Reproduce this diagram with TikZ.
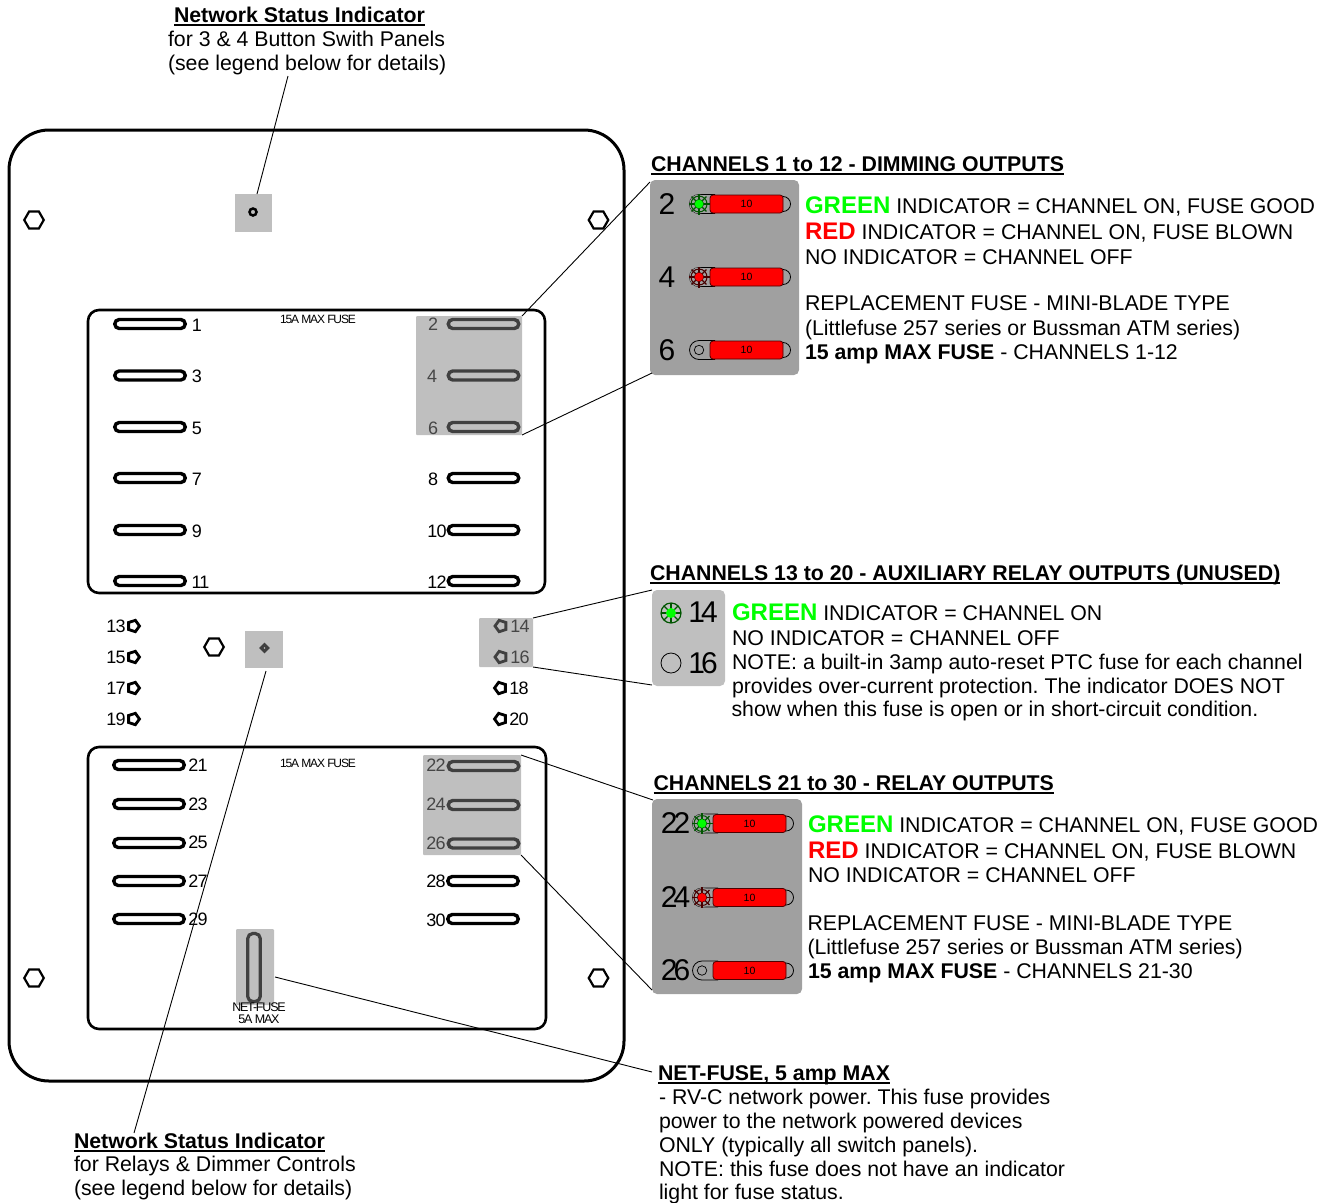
\documentclass[tikz,border=0pt]{standalone}
\usepackage{fontspec}
\setmainfont{Liberation Sans}
\newfontfamily\tightf[LetterSpace=-9.5]{Liberation Sans}
\newfontfamily\semitight[LetterSpace=-4]{Liberation Sans}
\newfontfamily\bigtight[LetterSpace=-13]{Liberation Sans}
\usetikzlibrary{shapes.geometric}
\definecolor{shadegray}{RGB}{191,191,191}
\definecolor{paneldark}{RGB}{160,160,160}
\definecolor{fusedark}{RGB}{64,64,64}
\definecolor{labeldark}{RGB}{70,70,70}
\definecolor{ledgreen}{RGB}{0,255,0}
\definecolor{ledred}{RGB}{255,0,0}
\definecolor{darkgreenline}{RGB}{0,85,0}
\definecolor{darkredline}{RGB}{70,0,0}
\newcommand{\hdrline}[1]{\leavevmode\vtop{\hbox{\smash{#1}}\kern2pt\hrule height 1.5pt}}
\tikzset{
  x=1pt,y=-1pt,
  txt/.style={anchor=base west,inner sep=0pt,outer sep=0pt,font=\fontsize{21.3}{24}\selectfont},
  leader/.style={draw=black,line width=0.9pt},
  plate/.style={draw=black,line width=3pt,rounded corners=40pt},
  panel/.style={draw=black,line width=2.6pt,rounded corners=11pt},
  shadebox/.style={fill=shadegray,rounded corners=1pt},
  slot/.style={draw=#1,line width=3.4pt,rectangle,rounded corners=4.5pt,minimum width=70.5pt,minimum height=9pt,inner sep=0pt},
  slot/.default=black,
  num/.style={inner sep=0pt,font=\semitight\fontsize{18}{18}\selectfont},
  bignum/.style={inner sep=0pt,font=\fontsize{30}{30}\selectfont},
  bigtightnum/.style={inner sep=0pt,font=\bigtight\fontsize{30}{30}\selectfont},
  bolt/.style={draw=black,line width=2.2pt,regular polygon,regular polygon sides=6,minimum size=19.5pt,inner sep=0pt},
  nutL/.style={draw=#1,line width=2.8pt,regular polygon,regular polygon sides=5,shape border rotate=-90,minimum size=12pt,inner sep=0pt},
  nutL/.default=black,
  nutR/.style={draw=#1,line width=2.8pt,regular polygon,regular polygon sides=5,shape border rotate=90,minimum size=12pt,inner sep=0pt},
  nutR/.default=black,
  fuse/.style={draw=black!70!red,line width=0.8pt,fill=ledred,rounded corners=3pt,minimum width=73pt,minimum height=18pt,inner sep=0pt,font=\fontsize{10.5}{10}\selectfont,text=black},
}
% capsule, end cap and red blade of one fuse: name, x offset, y
\newcommand{\bladebody}[3]{%
  \draw[black,line width=0.8pt] (#2+715,#3-9.5) -- (#2+699,#3-9.5) arc[start angle=270,end angle=90,radius=9.5] -- (#2+715,#3+9.5);
  \draw[black,line width=0.8pt] (#2+783,#3-7.5) arc[start angle=-90,end angle=90,radius=7.5];
  \node[fuse] (#1) at (#2+746.5,#3) {10};
}
\newcommand{\sunled}[5]{% name,x,y,fill,dark
  \fill[paneldark] (#2,#3) circle[radius=9.5];
  \foreach \a in {0,45,...,315}{\draw[#5,line width=1.2pt] (#2,#3) -- ++(\a:10.5pt);}
  \draw[#5,line width=1pt] (#2,#3) circle[radius=8];
  \node[circle,fill=#4,draw=#5,line width=.5pt,minimum size=9.5pt,inner sep=0pt] (#1) at (#2,#3) {};
}
\begin{document}
\frenchspacing
\begin{tikzpicture}
\useasboundingbox (0,0) rectangle (1321,1202);
% plate
\draw[plate] (9,130) rectangle (624,1081);
\draw[panel] (88,310) rectangle (545,593);
\draw[panel] (88,747) rectangle (546,1029);
% shaded source regions
\fill[shadebox] (416,316) rectangle (522,435);
\fill[shadebox] (479,618) rectangle (533,667);
\fill[shadebox] (423,755) rectangle (521,855);
\fill[shadebox] (236,929) rectangle (274,1005);
\node[fill=shadegray,minimum width=37pt,minimum height=38pt,inner sep=0pt] (statusA) at (253.5,213) {};
\node[fill=shadegray,minimum width=38pt,minimum height=37pt,inner sep=0pt] (statusB) at (264,649.5) {};
\node[circle,draw=black,line width=2.5pt,minimum size=7pt,inner sep=0pt] (ledA) at (253,212) {};
\node[diamond,fill=fusedark,minimum size=11pt,inner sep=0pt] (ledB) at (264.5,648) {};
\node[circle,fill=shadegray,minimum size=1.6pt,inner sep=0pt] (ledBc) at (264.5,648) {};
% bolts
\node[bolt] (b1) at (34,220) {};
\node[bolt] (b2) at (598.5,220) {};
\node[bolt] (b3) at (34,978) {};
\node[bolt] (b4) at (598.5,978) {};
\node[bolt] (b5) at (214,647) {};
% upper fuses
\node[slot] (f1) at (150,324) {};
\node[slot] (f3) at (150,375.5) {};
\node[slot] (f5) at (150,427) {};
\node[slot] (f7) at (150,478) {};
\node[slot] (f9) at (150,530) {};
\node[slot] (f11) at (150,581) {};
\node[slot=fusedark] (f2) at (483.5,324) {};
\node[slot=fusedark] (f4) at (483.5,375.5) {};
\node[slot=fusedark] (f6) at (483.5,427) {};
\node[slot] (f8) at (483.5,478) {};
\node[slot] (f10) at (483.5,530) {};
\node[slot] (f12) at (483.5,581) {};
\node[num] (l1) at (197,325) {1};
\node[num] (l3) at (197,376) {3};
\node[num] (l5) at (197,428) {5};
\node[num] (l7) at (197,479) {7};
\node[num] (l9) at (197,531) {9};
\node[num] (l11) at (200.5,582) {11};
\node[num,text=labeldark] (l2) at (433,324) {2};
\node[num,text=labeldark] (l4) at (432,376) {4};
\node[num,text=labeldark] (l6) at (433,428) {6};
\node[num] (l8) at (433,479) {8};
\node[num] (l10) at (437,531) {10};
\node[num] (l12) at (437,582) {12};
\node[inner sep=0pt,font=\tightf\fontsize{12}{12}\selectfont] (m1) at (318,319) {15A MAX FUSE};
\node[inner sep=0pt,font=\tightf\fontsize{12}{12}\selectfont] (m2) at (318,763) {15A MAX FUSE};
% middle terminals
\node[nutL] (n13) at (133.5,626) {};
\node[nutL] (n15) at (133.5,657) {};
\node[nutL] (n17) at (133.5,688) {};
\node[nutL] (n19) at (133.5,719) {};
\node[num] (l13) at (116,626) {13};
\node[num] (l15) at (116,657) {15};
\node[num] (l17) at (116,688) {17};
\node[num] (l19) at (116,719) {19};
\node[nutR=fusedark] (n14) at (501,626) {};
\node[nutR=fusedark] (n16) at (501,657) {};
\node[nutR] (n18) at (500.5,688) {};
\node[nutR] (n20) at (500.5,719) {};
\node[num,text=labeldark] (l14) at (520,626) {14};
\node[num,text=labeldark] (l16) at (520,657) {16};
\node[num] (l18) at (519,688) {18};
\node[num] (l20) at (519,719) {20};
% lower fuses
\node[slot] (f21) at (149,765) {};
\node[slot] (f23) at (149,804) {};
\node[slot] (f25) at (149,843) {};
\node[slot] (f27) at (149,881) {};
\node[slot] (f29) at (149,919) {};
\node[slot=fusedark] (f22) at (483.5,766) {};
\node[slot=fusedark] (f24) at (483.5,805) {};
\node[slot=fusedark] (f26) at (483.5,843.5) {};
\node[slot] (f28) at (483,881) {};
\node[slot] (f30) at (483,919) {};
\node[num] (l21) at (198,765.5) {21};
\node[num] (l23) at (198,804.5) {23};
\node[num] (l25) at (198,842.5) {25};
\node[num] (l27) at (198,881.5) {27};
\node[num] (l29) at (198,919.5) {29};
\node[num,text=labeldark] (l22) at (436,765) {22};
\node[num,text=labeldark] (l24) at (436,804) {24};
\node[num,text=labeldark] (l26) at (436,843) {26};
\node[num] (l28) at (436,881) {28};
\node[num] (l30) at (436,920) {30};
\node[draw=fusedark,line width=3.2pt,rectangle,rounded corners=5pt,minimum width=12.5pt,minimum height=68pt,inner sep=0pt] (netslot) at (254,967.5) {};
\node[inner sep=0pt,align=center,font=\tightf\fontsize{12.5}{11.5}\selectfont] (netlabel) at (259,1013) {NET-FUSE\\5A MAX};
% enlarged panels
\fill[paneldark,rounded corners=5pt] (650,180) rectangle (799,375);
\fill[shadegray,rounded corners=5pt] (652,590) rectangle (725,686);
\fill[paneldark,rounded corners=5pt] (652,799) rectangle (802,994);
\coordinate (pA1) at (650,182); \coordinate (pA2) at (652,373);
\coordinate (sA1) at (522,316); \coordinate (sA2) at (522,435);
\coordinate (pB1) at (652,590); \coordinate (pB2) at (652,685);
\coordinate (sB1) at (533,618); \coordinate (sB2) at (533,667);
\coordinate (pC1) at (653,800); \coordinate (pC2) at (652,990);
\coordinate (sC1) at (521,755); \coordinate (sC2) at (521,855);
\coordinate (tN) at (652,1072); \coordinate (sN) at (275,977);
\coordinate (tT) at (288,76); \coordinate (tB) at (134,1133);
\coordinate (sTop) at (257,194); \coordinate (sBot) at (266,671);
\draw[leader] (pA1) -- (sA1);
\draw[leader] (pA2) -- (sA2);
\draw[leader] (pB1) -- (sB1);
\draw[leader] (pB2) -- (sB2);
\draw[leader] (pC1) -- (sC1);
\draw[leader] (pC2) -- (sC2);
\draw[leader] (tN) -- (sN);
\draw[leader] (tT) -- (sTop);
\draw[leader] (tB) -- (sBot);
% panel A contents
\bladebody{zf2}{0}{204}
\bladebody{zf4}{0}{277}
\bladebody{zf6}{0}{350}
\sunled{z2}{699}{204}{ledgreen}{darkgreenline}
\sunled{z4}{699}{277}{ledred}{darkredline}
\node[circle,draw=black,line width=.7pt,fill=paneldark,minimum size=9.5pt,inner sep=0pt] (z6) at (699,350) {};
\node[bignum] (zl2) at (667,204) {2};
\node[bignum] (zl4) at (667,277) {4};
\node[bignum] (zl6) at (667,350) {6};
% panel C contents
\bladebody{zf22}{3}{823.5}
\bladebody{zf24}{3}{897.5}
\bladebody{zf26}{3}{970.5}
\sunled{z22}{702}{823.5}{ledgreen}{darkgreenline}
\sunled{z24}{702}{897.5}{ledred}{darkredline}
\node[circle,draw=black,line width=.7pt,fill=paneldark,minimum size=9.5pt,inner sep=0pt] (z26) at (702,970.5) {};
\node[bigtightnum] (zl22) at (675.5,823.5) {22};
\node[bigtightnum] (zl24) at (675.5,897.5) {24};
\node[bigtightnum] (zl26) at (675.5,970.5) {26};
% panel B contents
\foreach \a in {0,45,...,315}{\draw[darkgreenline,line width=1.2pt] (671,613) -- ++(\a:10pt);}
\draw[darkgreenline,line width=1.2pt] (671,613) circle[radius=10];
\node[circle,fill=ledgreen,minimum size=10pt,inner sep=0pt] (z14) at (671,613) {};
\node[circle,draw=black,line width=.8pt,minimum size=20pt,inner sep=0pt] (z16) at (671,663) {};
\node[bigtightnum] (zl14) at (703,612) {14};
\node[bigtightnum] (zl16) at (703,663) {16};
% texts
\node[txt] (t1) at (174,22) {\textbf{\hdrline{Network Status Indicator}}};
\node[txt] (t2) at (168,46) {for 3 \& 4 Button Swith Panels};
\node[txt] (t3) at (168,70) {(see legend below for details)};

\node[txt] (a0) at (651,171) {\textbf{\hdrline{CHANNELS 1 to 12 - DIMMING OUTPUTS}}};
\node[txt] (a1) at (805,213) {\textbf{\fontsize{24}{24}\selectfont\textcolor{ledgreen}{GREEN}} INDICATOR = CHANNEL ON, FUSE GOOD};
\node[txt] (a2) at (805,239) {\textbf{\fontsize{24}{24}\selectfont\textcolor{ledred}{RED}} INDICATOR = CHANNEL ON, FUSE BLOWN};
\node[txt] (a3) at (805,264) {NO INDICATOR = CHANNEL OFF};
\node[txt] (a4) at (805,310) {REPLACEMENT FUSE - MINI-BLADE TYPE};
\node[txt] (a5) at (805,335) {(Littlefuse 257 series or Bussman ATM series)};
\node[txt] (a6) at (805,359) {\textbf{15 amp MAX FUSE} - CHANNELS 1-12};

\node[txt] (b0) at (650,580) {\textbf{\hdrline{CHANNELS 13 to 20 - AUXILIARY RELAY OUTPUTS (UNUSED)}}};
\node[txt] (b1) at (732,620) {\textbf{\fontsize{24}{24}\selectfont\textcolor{ledgreen}{GREEN}} INDICATOR = CHANNEL ON};
\node[txt] (b2) at (732,645) {NO INDICATOR = CHANNEL OFF};
\node[txt] (b3) at (732,669) {NOTE: a built-in 3amp auto-reset PTC fuse for each channel};
\node[txt] (b4) at (732,693) {provides over-current protection. The indicator DOES NOT};
\node[txt] (b5) at (731.5,716) {show when this fuse is open or in short-circuit condition.};

\node[txt] (c0) at (653.5,790) {\textbf{\hdrline{CHANNELS 21 to 30 - RELAY OUTPUTS}}};
\node[txt] (c1) at (808,832) {\textbf{\fontsize{24}{24}\selectfont\textcolor{ledgreen}{GREEN}} INDICATOR = CHANNEL ON, FUSE GOOD};
\node[txt] (c2) at (808,858) {\textbf{\fontsize{24}{24}\selectfont\textcolor{ledred}{RED}} INDICATOR = CHANNEL ON, FUSE BLOWN};
\node[txt] (c3) at (808,882) {NO INDICATOR = CHANNEL OFF};
\node[txt] (c4) at (807.5,930) {REPLACEMENT FUSE - MINI-BLADE TYPE};
\node[txt] (c5) at (807.5,954) {(Littlefuse 257 series or Bussman ATM series)};
\node[txt] (c6) at (808,978) {\textbf{15 amp MAX FUSE} - CHANNELS 21-30};

\node[txt] (d0) at (658,1080) {\textbf{\hdrline{NET-FUSE, 5 amp MAX}}};
\node[txt] (d1) at (659,1104) {- RV-C network power. This fuse provides};
\node[txt] (d2) at (659,1128) {power to the network powered devices};
\node[txt] (d3) at (659,1152) {ONLY (typically all switch panels).};
\node[txt] (d4) at (659,1176) {NOTE: this fuse does not have an indicator};
\node[txt] (d5) at (659,1199) {light for fuse status.};

\node[txt] (e0) at (74,1148) {\textbf{\hdrline{Network Status Indicator}}};
\node[txt] (e1) at (74,1171) {for Relays \& Dimmer Controls};
\node[txt] (e2) at (74,1195) {(see legend below for details)};
\end{tikzpicture}
\end{document}
